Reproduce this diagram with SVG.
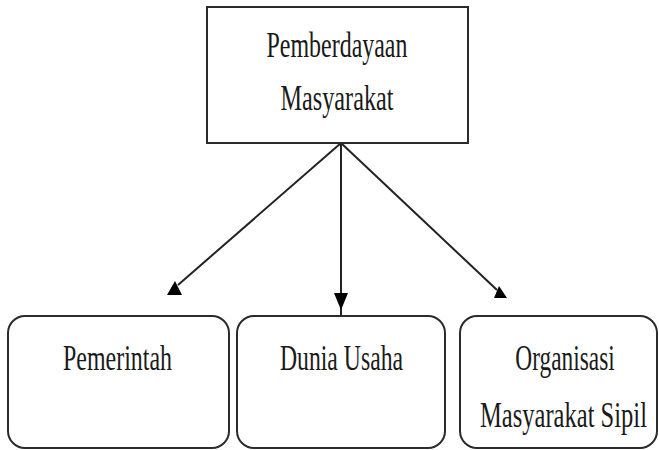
<svg xmlns="http://www.w3.org/2000/svg" width="659" height="450" viewBox="0 0 659 450">
<style>
.box{fill:#fff;stroke:#2b2b2b;stroke-width:2}
.t{font-family:"Liberation Serif","Times New Roman",serif;font-size:36px;fill:#1a1a1a;text-anchor:middle}
.ln{stroke:#222;stroke-width:2;fill:none}
.ah{fill:#000}
</style>
<rect width="659" height="450" fill="#fff"/>
<g id="connectors">
<line class="ln" x1="341" y1="143" x2="178" y2="285"/>
<polygon class="ah" points="175,281 167,295 182,295"/>
<line class="ln" x1="341" y1="143" x2="341" y2="316"/>
<polygon class="ah" points="334,293 348,293 341,310"/>
<line class="ln" x1="341" y1="143" x2="497" y2="290"/>
<polygon class="ah" points="499,286 494,298 507,298"/>
</g>
<g id="pemberdayaan">
<rect class="box" x="207" y="7" width="261" height="136"/>
<text class="t" transform="translate(337,57) scale(0.665,1)">Pemberdayaan</text>
<text class="t" transform="translate(337,110) scale(0.673,1)">Masyarakat</text>
</g>
<g id="pemerintah">
<rect class="box" x="8" y="316" width="221" height="132" rx="17"/>
<text class="t" transform="translate(117.5,370) scale(0.665,1)">Pemerintah</text>
</g>
<g id="dunia-usaha">
<rect class="box" x="237" y="316" width="208" height="132" rx="17"/>
<text class="t" transform="translate(341.5,370) scale(0.658,1)">Dunia Usaha</text>
</g>
<g id="organisasi">
<rect class="box" x="460" y="316" width="197" height="132" rx="17"/>
<text class="t" transform="translate(565,370) scale(0.649,1)">Organisasi</text>
<text class="t" transform="translate(563.5,427) scale(0.682,1)">Masyarakat Sipil</text>
</g>
</svg>
